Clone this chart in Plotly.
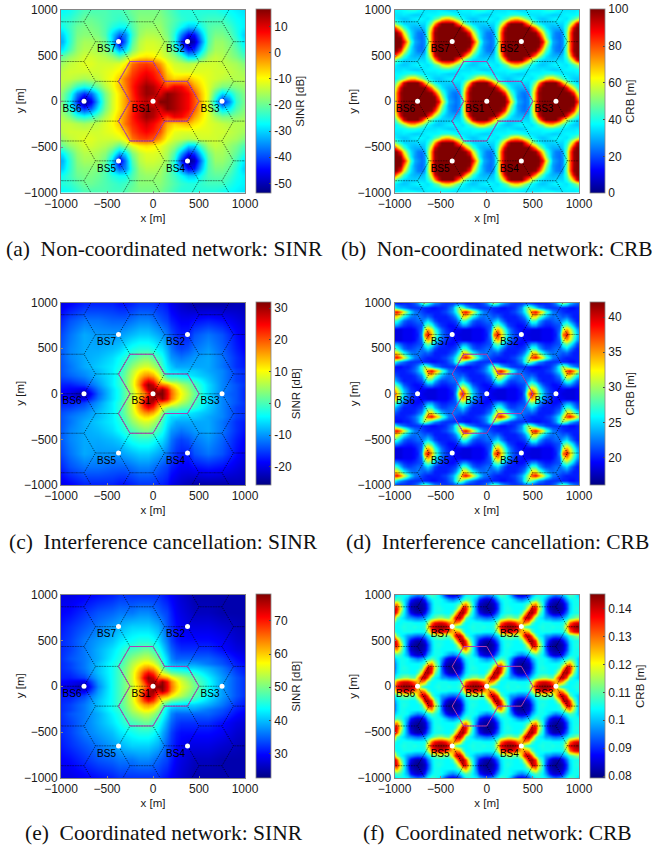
import numpy as np
import plotly.graph_objects as go

# ---------- base stations and cells ----------
SITE_NAMES = ["BS1", "BS2", "BS3", "BS4", "BS5", "BS6", "BS7"]
SITE_X = [0, 375, 750, 375, -375, -750, -375]
SITE_Y = [0, 650, 0, -650, -650, 0, 650]
OUTLINE_X = [-250, -375, -250, 0, 125, 375, 500, 375, 125, 0, -250, -375, -250]
OUTLINE_Y = [0, 217, 433, 433, 217, 217, 0, -217, -217, -433, -433, -217, 0]
AXIS_TICKS = [-1000, -500, 0, 500, 1000]

# ---------- CRB panels: one repeating cell, rows y=0..300, mirrored about y=0 ----------
CRB_NONCOORD = [
 [27,24,26,47,77,97,100,100,100,100,100,100,100,100,100,100,90,66,44,30],
 [25,23,27,48,77,97,100,100,100,100,100,100,100,100,100,98,76,54,37,28],
 [25,24,28,50,77,98,100,100,100,100,100,100,100,100,98,84,62,45,35,29],
 [30,30,33,45,68,92,100,100,100,100,100,100,100,90,74,57,44,36,32,30],
 [34,34,34,40,52,72,92,100,100,100,100,88,72,56,45,38,34,33,33,33],
 [37,37,36,35,38,44,50,62,68,68,60,52,44,38,35,33,32,33,35,36],
 [33,34,36,37,37,37,38,40,41,41,39,37,35,35,35,35,36,35,34,33],
]
CRB_CANCEL = [
 [20,23,36,39,34,29,25,22.5,21,20.5,20,19,18.5,18.5,18.5,18.5,19,19,19,19.5],
 [20.5,22,31,35,32,27,24,22,20.5,20,19.5,19,19,18.5,18.5,18.5,19,19,19,19.5],
 [21,21.5,27,29,27,24,21.5,20.5,20,19.5,19.5,20,21.5,23,23,21.5,20.5,20,20,20.5],
 [22,22,23.5,25,23,21,20,20,20,20,20.5,21,24,27.5,27,24,22,21,21,21.5],
 [22.5,22,21.5,22,21,20,20,20,20,20.5,21.5,23,27,33,33,29,26,24,22.5,22],
 [22,21,20.5,20,20,20,20,20.5,21,22,23.5,26,31,37,39,36,32,28,25,22.5],
 [20.5,20.5,20,20,19.5,19.5,20,20,20.5,21.5,23,27,30,28,25,23,22,21,20.5,20.5],
]
CRB_COORD = [
 [.105,.105,.107,.122,.138,.142,.144,.144,.143,.138,.125,.109,.105,.104,.104,.105,.106,.105,.105,.106],
 [.104,.104,.105,.114,.130,.137,.139,.139,.136,.130,.125,.130,.125,.110,.104,.104,.105,.105,.105,.104],
 [.094,.095,.097,.102,.107,.110,.113,.113,.110,.110,.124,.139,.143,.132,.110,.104,.102,.098,.097,.095],
 [.082,.083,.087,.095,.102,.105,.105,.105,.104,.104,.108,.122,.140,.144,.134,.112,.104,.095,.087,.083],
 [.080,.081,.083,.091,.101,.105,.106,.105,.104,.104,.104,.108,.124,.141,.138,.120,.106,.093,.083,.081],
 [.081,.082,.084,.092,.101,.105,.105,.104,.104,.104,.104,.105,.109,.122,.128,.114,.105,.094,.084,.082],
 [.084,.085,.089,.098,.103,.105,.105,.104,.101,.098,.096,.098,.101,.105,.109,.107,.103,.098,.089,.085],
]

# ---------- SINR panel (a): rows y>=0, mirrored about y=0 ----------
SINR_A_X = [-1050,-975,-900,-825,-750,-675,-600,-525,-450,-375,-300,-225,-150,-75,0,75,150,225,300,375,450,525,600,675,750,825,900,975,1050]
SINR_A_Y = [0,81.25,162.5,243.75,325,406.25,487.5,568.75,650,731.25,812.5,893.75,975,1056.25]
SINR_NONCOORD = [
 [-16,-20,-28,-42,-54,-46,-32,-20,-13,-8,-3,4,9,12,8,16.5,16.5,14,11,8,3,-5,-13,-28,-44,-36,-24,-20,-18],
 [-15,-19,-25,-36,-42,-38,-28,-19,-13,-8,-3,5,11,15,14,10,16,14,11,8,2,-6,-12,-22,-30,-28,-22,-19,-17],
 [-14,-16,-19,-24,-26,-24,-20,-15,-11,-6,-1,6,11,15,13,8,4,9,8,4,-3,-8,-12,-16,-19,-19,-18,-17,-16],
 [-14,-14,-14,-15,-16,-15,-14,-12,-10,-6,0,5,8,11,8,4,-4,-7,-6,-5,-8,-10,-12,-13,-14,-15,-15,-15,-15],
 [-16,-14,-13,-13,-13,-13,-13,-12,-11,-9,-5,3,6,8,6,2,-7,-11,-12,-12,-12,-12,-12,-13,-13,-14,-15,-16,-16],
 [-18,-16,-14,-13,-12,-12,-13,-13,-13,-12,-9,0,3,4,2,-3,-10,-13,-14,-15,-14,-13,-13,-13,-14,-15,-16,-18,-19],
 [-22,-20,-17,-15,-13,-13,-14,-15,-17,-21,-17,-12,-9,-8,-9,-11,-14,-17,-22,-30,-30,-22,-16,-14,-15,-17,-19,-22,-24],
 [-32,-28,-22,-17,-15,-15,-16,-18,-24,-34,-30,-19,-14,-12,-12,-13,-16,-22,-34,-44,-42,-30,-20,-16,-16,-18,-21,-25,-28],
 [-36,-32,-24,-18,-16,-16,-17,-20,-30,-48,-37,-22,-15,-13,-13,-14,-17,-25,-42,-54,-50,-36,-22,-17,-17,-19,-23,-28,-30],
 [-34,-30,-24,-19,-18,-18,-19,-22,-30,-38,-36,-24,-17,-15,-15,-16,-19,-25,-36,-45,-44,-32,-22,-19,-19,-21,-25,-30,-32],
 [-28,-26,-23,-20,-19,-19,-20,-22,-25,-27,-27,-22,-18,-17,-17,-17,-20,-23,-27,-31,-31,-26,-22,-21,-21,-23,-26,-28,-29],
 [-26,-25,-24,-22,-20,-20,-21,-22,-23,-24,-23,-21,-18,-18,-18,-18,-20,-22,-24,-25,-25,-24,-23,-23,-23,-25,-27,-28,-29],
 [-28,-27,-26,-24,-22,-22,-22,-22,-23,-23,-22,-20,-19,-19,-19,-19,-21,-23,-25,-25,-25,-25,-25,-25,-26,-27,-28,-29,-30],
 [-29,-28,-27,-25,-23,-23,-23,-23,-24,-24,-23,-21,-20,-20,-20,-20,-22,-24,-26,-26,-26,-26,-26,-26,-27,-28,-29,-30,-31],
]

# ---------- SINR panels (c), (e): finer near BS1 ----------
SINR_X = [-1050,-900,-750,-600,-450,-375,-300,-225,-150,-100,-50,0,50,100,150,200,250,300,375,450,600,750,900,1050]
SINR_Y = [0,50,100,150,200,250,300,400,500,650,800,1000]
SINR_CANCEL = [
 [-18,-20,-24,-13,-6,-3,1,6,13,16,22,30,32,32,26,19,14,10,6,2,-6,-12,-14,-18],
 [-18,-19,-20,-12,-6,-3,1,7,14,22,29,31,27,31,25,18,13,9,5,1,-6,-11,-14,-18],
 [-17,-17,-15,-10,-5,-2,2,8,17,26,31,28,20,18,16,12,9,6,3,0,-6,-11,-14,-17],
 [-16,-15,-13,-9,-5,-2,2,8,16,22,25,22,15,9,5,3,3,1,0,-2,-7,-11,-15,-17],
 [-15,-13,-11,-8,-5,-2,2,7,13,16,17,15,10,4,-2,-3,-3,-4,-5,-6,-8,-11,-15,-17],
 [-15,-12,-10,-8,-5,-2,1,6,10,12,12,10,6,1,-4,-6,-6,-7,-7,-7,-9,-11,-15,-17],
 [-15,-12,-9,-7,-5,-3,0,4,7,8,8,6,3,-1,-5,-7,-9,-9,-9,-9,-9,-12,-16,-18],
 [-15,-11,-9,-8,-6,-4,-2,0,2,3,3,1,-1,-3,-7,-10,-11,-12,-11,-10,-9,-12,-16,-19],
 [-15,-11,-9,-9,-8,-7,-5,-3,-2,-2,-2,-3,-5,-6,-9,-12,-14,-15,-14,-12,-10,-13,-17,-20],
 [-16,-12,-9,-10,-10,-10,-9,-8,-7,-7,-7,-8,-9,-10,-12,-14,-16,-17,-17,-14,-12,-14,-18,-21],
 [-18,-14,-12,-12,-13,-13,-13,-12,-11,-11,-11,-12,-13,-14,-15,-17,-18,-19,-19,-18,-17,-18,-20,-22],
 [-21,-19,-17,-17,-17,-18,-18,-17,-16,-16,-16,-16,-17,-17,-18,-20,-21,-22,-23,-24,-24,-24,-23,-23],
]
SINR_COORD = [
 [29,28,25,37,44,47,50,54,60,64,69,76,78,78,72,65,60,56,53,50,44,38,34,31],
 [30,29,28,38,44,47,50,55,61,68,75,77,72,77,71,64,59,55,52,49,44,38,34,31],
 [31,31,33,39,44,47,50,55,63,72,77,74,66,64,62,58,55,53,50,48,43,38,34,31],
 [31,32,35,40,44,47,50,55,62,68,71,68,61,55,52,49,48,47,46,45,41,37,33,30],
 [31,33,36,40,44,47,50,54,59,62,63,61,56,50,45,43,42,42,41,41,39,36,32,30],
 [31,33,36,40,44,46,49,53,56,58,58,56,52,47,42,39,38,38,38,38,36,34,31,29],
 [31,34,36,39,43,45,48,51,53,54,54,52,49,45,41,37,35,35,35,35,35,33,30,28],
 [31,33,36,39,42,44,46,47,48,49,49,47,45,42,38,35,33,32,32,32,32,30,28,27],
 [31,33,36,38,40,42,43,44,45,45,45,44,42,39,36,33,31,30,30,30,30,29,27,26],
 [30,32,34,36,38,39,40,41,41,41,41,40,39,37,34,32,30,29,28,28,28,27,26,25],
 [29,30,32,34,35,36,36,36,37,37,37,36,35,34,33,31,29,28,27,26,26,25,25,25],
 [28,28,29,30,31,32,32,32,32,32,32,32,32,31,30,29,28,27,26,25,25,25,25,25],
]

JET = [[0, "rgb(0,0,131)"], [0.125, "rgb(0,0,255)"], [0.375, "rgb(0,255,255)"],
       [0.625, "rgb(255,255,0)"], [0.875, "rgb(255,0,0)"], [1, "rgb(128,0,0)"]]
TEXT = "#1a1a1a"
GRAY = "#858585"
W, H = 671, 848


def mirrored(rows_y, rows):
    rows = np.array(rows, dtype=float)
    y = np.array(rows_y, dtype=float)
    return np.concatenate([-y[:0:-1], y]), np.vstack([rows[:0:-1], rows])


def tiled(cell):
    # the CRB maps repeat with the site lattice (750, 0), (375, 650)
    cell = np.array(cell, dtype=float)
    ii = np.arange(-29, 30)
    jj = np.arange(-22, 23)
    z = np.zeros((jj.size, ii.size))
    for r, j in enumerate(jj):
        k = (j + 6) // 13
        row = abs((j + 6) % 13 - 6)
        z[r] = cell[row, (ii + 10 - 10 * k) % 20]
    return ii * 37.5, jj * 50.0, z


def hex_edges():
    side = 250.0
    h = side * np.sqrt(3) / 2
    xs, ys = [], []
    for m in range(-5, 6):
        for n in range(-6, 7):
            cx, cy = 250 + 375 * m, h * m + 2 * h * n
            ang = np.deg2rad(np.arange(0, 420, 60))
            xs += list(cx + side * np.cos(ang)) + [None]
            ys += list(cy + side * np.sin(ang)) + [None]
    return xs, ys


HEX_X, HEX_Y = hex_edges()

y_a, z_a = mirrored(SINR_A_Y, SINR_NONCOORD)
y_c, z_c = mirrored(SINR_Y, SINR_CANCEL)
y_e, z_e = mirrored(SINR_Y, SINR_COORD)
xb, yb, zb = tiled(CRB_NONCOORD)
xd, yd, zd = tiled(CRB_CANCEL)
xf, yf, zf = tiled(CRB_COORD)

PANELS = [
 dict(x=SINR_A_X, y=y_a, z=z_a, zmin=-53.8, zmax=16.6, cb="SINR [dB]", ticks=[10, 0, -10, -20, -30, -40, -50],
      box=(61, 245, 9.5, 193), cbx=256, cap="(a)  Non-coordinated network: SINR", capx=164, capy=249),
 dict(x=xb, y=yb, z=zb, zmin=0, zmax=100, cb="CRB [m]", ticks=[0, 20, 40, 60, 80, 100],
      box=(394.5, 579, 9.5, 193), cbx=590, cap="(b)  Non-coordinated network: CRB", capx=497, capy=249),
 dict(x=SINR_X, y=y_c, z=z_c, zmin=-25.8, zmax=31.9, cb="SINR [dB]", ticks=[30, 20, 10, 0, -10, -20],
      box=(61, 245, 302.5, 485), cbx=256, cap="(c)  Interference cancellation: SINR", capx=163, capy=542),
 dict(x=xd, y=yd, z=zd, zmin=16.05, zmax=42.1, cb="CRB [m]", ticks=[20, 25, 30, 35, 40],
      box=(394.5, 579, 302.5, 485), cbx=590, cap="(d)  Interference cancellation: CRB", capx=498, capy=542),
 dict(x=SINR_X, y=y_e, z=z_e, zmin=22.6, zmax=78, cb="SINR [dB]", ticks=[30, 40, 50, 60, 70],
      box=(61, 245, 594.5, 778), cbx=256, cap="(e)  Coordinated network: SINR", capx=164, capy=833),
 dict(x=xf, y=yf, z=zf, zmin=0.0792, zmax=0.1452, cb="CRB [m]", ticks=[0.08, 0.09, 0.1, 0.11, 0.12, 0.13, 0.14],
      box=(394.5, 579, 594.5, 778), cbx=590, cap="(f)  Coordinated network: CRB", capx=498, capy=833),
]

fig = go.Figure()
layout = {}
annotations = []
TICKFONT = dict(family="Liberation Sans", size=12, color=TEXT)
TITLEFONT = dict(family="Liberation Sans", size=11.5, color=TEXT)
for idx, p in enumerate(PANELS, start=1):
    left, right, top, bottom = p["box"]
    xname, yname = f"x{idx}", f"y{idx}"
    fig.add_trace(go.Heatmap(
        x=p["x"], y=p["y"], z=p["z"], zmin=p["zmin"], zmax=p["zmax"], zsmooth="best",
        colorscale=JET, xaxis=xname, yaxis=yname, hoverinfo="skip",
        colorbar=dict(
            x=p["cbx"] / W, xanchor="left", xpad=0, ypad=0,
            y=1 - (top + bottom) / 2 / H, yanchor="middle",
            len=(bottom - top) / H, lenmode="fraction",
            thickness=15, thicknessmode="pixels",
            tickmode="array", tickvals=p["ticks"], ticktext=[f"{t:g}" for t in p["ticks"]],
            ticks="inside", ticklen=2, tickcolor="#444444", tickwidth=0.6,
            outlinecolor=GRAY, outlinewidth=0.8, tickfont=TICKFONT,
            title=dict(text=p["cb"], side="right", font=TITLEFONT),
        )))
    fig.add_trace(go.Scatter(x=HEX_X, y=HEX_Y, mode="lines", xaxis=xname, yaxis=yname, showlegend=False,
                             hoverinfo="skip", line=dict(color="rgba(0,0,0,0.75)", width=0.6, dash="1px,1.6px")))
    fig.add_trace(go.Scatter(x=OUTLINE_X, y=OUTLINE_Y, mode="lines", xaxis=xname, yaxis=yname, showlegend=False,
                             hoverinfo="skip", line=dict(color="#b23cb8", width=1.0)))
    fig.add_trace(go.Scatter(x=SITE_X, y=SITE_Y, mode="markers", xaxis=xname, yaxis=yname, showlegend=False,
                             marker=dict(color="white", size=5, line=dict(width=0)), hoverinfo="skip"))
    fig.add_trace(go.Scatter(x=[sx - 130 for sx in SITE_X], y=[sy - 90 for sy in SITE_Y], text=SITE_NAMES,
                             mode="text", xaxis=xname, yaxis=yname, showlegend=False, hoverinfo="skip",
                             textfont=dict(family="Liberation Sans", size=10, color="black")))
    common = dict(range=[-1000, 1000], tickmode="array", tickvals=AXIS_TICKS, ticks="inside", ticklen=2,
                  tickcolor=GRAY, tickwidth=0.7, showline=True, linecolor=GRAY, linewidth=0.8, mirror=True,
                  showgrid=False, zeroline=False, tickfont=TICKFONT, automargin=True)
    layout[f"xaxis{idx}"] = dict(common, domain=[left / W, right / W], anchor=yname,
                                 title=dict(text="x [m]", font=TITLEFONT, standoff=3))
    layout[f"yaxis{idx}"] = dict(common, domain=[1 - bottom / H, 1 - top / H], anchor=xname)
    annotations.append(dict(text="y [m]", x=(left - 41) / W, y=1 - (top + bottom) / 2 / H, xref="paper", yref="paper",
                            xanchor="center", yanchor="middle", showarrow=False, textangle=-90, font=TITLEFONT))
    annotations.append(dict(text=p["cap"], x=p["capx"] / W, y=1 - p["capy"] / H, xref="paper", yref="paper",
                            xanchor="center", yanchor="middle", showarrow=False,
                            font=dict(family="Liberation Serif", size=21.5, color="#111111")))

fig.update_layout(width=W, height=H, margin=dict(l=0, r=0, t=0, b=0, autoexpand=False),
                  paper_bgcolor="white", plot_bgcolor="white",
                  showlegend=False, annotations=annotations, **layout)
fig.write_html("out.html", config={"displayModeBar": False},
               post_script="document.body.style.margin='0';document.body.style.overflow='hidden';")
